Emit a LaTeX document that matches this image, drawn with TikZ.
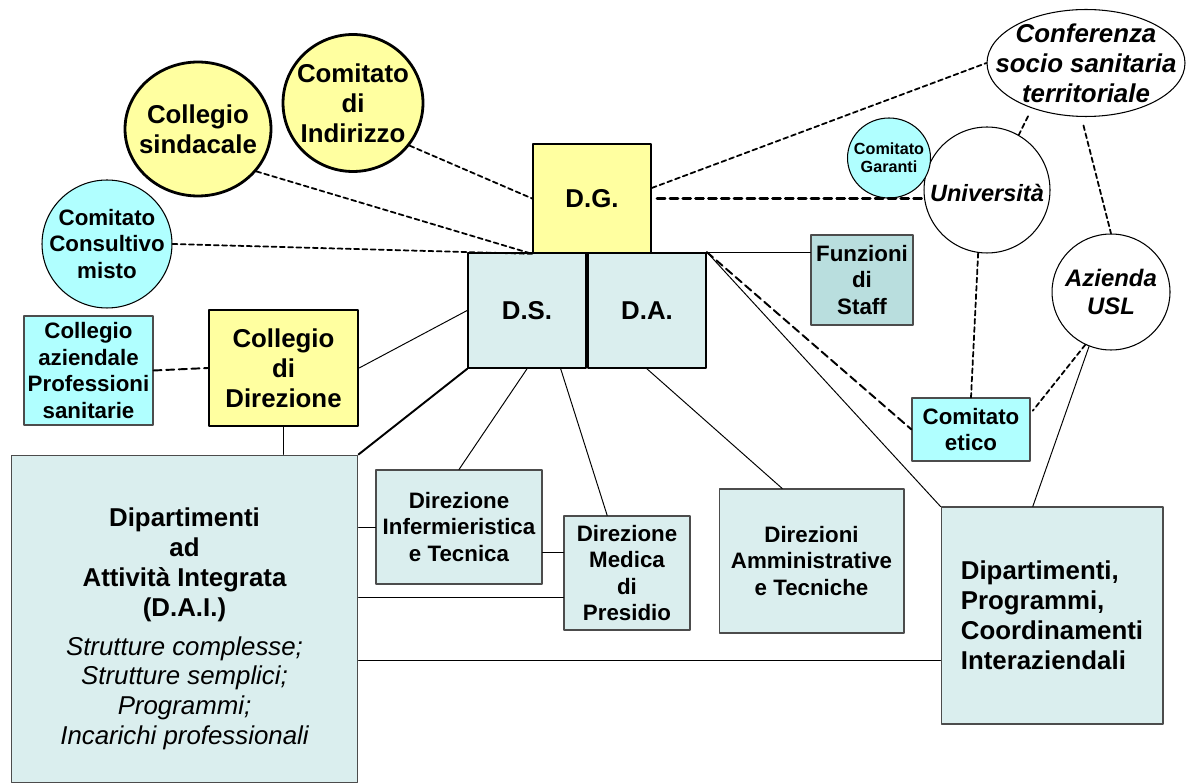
\documentclass[tikz,border=0pt]{standalone}
\usepackage{fontspec}
\setmainfont{Liberation Sans}
\usetikzlibrary{shapes.geometric}
\definecolor{giallo}{RGB}{255,255,160}
\definecolor{ciano}{RGB}{176,255,255}
\definecolor{grigioazz}{RGB}{218,238,238}
\definecolor{staffcol}{RGB}{185,222,222}
\newcommand{\grande}{\fontsize{14.7}{17}\selectfont\bfseries}
\newcommand{\medio}{\fontsize{12.7}{15}\selectfont\bfseries}
\newcommand{\piccolo}{\fontsize{9.2}{10.5}\selectfont\bfseries}
\newcommand{\corsivo}{\mdseries\itshape}

\begin{document}
\begin{tikzpicture}[line cap=round,line join=round,x=0.02cm,y=-0.02cm,
  cerchio/.style={ellipse,draw,line width=0.6pt,inner sep=0pt},
  scatola/.style={rectangle,draw=black!70,line width=0.6pt,fill=grigioazz,inner sep=0pt,align=center,font=\medio},
  tratt/.style={dash pattern=on 2.8pt off 1.9pt,line width=1pt},
  trattlungo/.style={dash pattern=on 4.6pt off 2.6pt,line width=1.1pt},
  filo/.style={line width=0.55pt}]
\useasboundingbox (0,0) rectangle (1186,783);

\node[cerchio,line width=1.6pt,fill=giallo,minimum width=2.92cm,minimum height=2.68cm,
  label={[align=center,font=\grande]center:Collegio\\sindacale}] (sind) at (198,129) {};
\node[cerchio,line width=1.6pt,fill=giallo,minimum width=2.8cm,minimum height=2.74cm,
  label={[align=center,font=\grande]center:Comitato\\di\\Indirizzo}] (indir) at (353,103) {};
\node[cerchio,fill=ciano,minimum width=2.6cm,minimum height=2.56cm,
  label={[align=center,font=\medio]center:Comitato\\Consultivo\\misto}] (consult) at (107,244) {};

\node[rectangle,draw,line width=1pt,fill=giallo,minimum width=2.36cm,minimum height=2.18cm,font=\grande] (dg) at (592,198.5) {D.G.};
\node[scatola,draw=black,line width=1pt,minimum width=2.36cm,minimum height=2.3cm,font=\grande] (ds) at (527,310.5) {D.S.};
\node[scatola,draw=black,line width=1pt,minimum width=2.36cm,minimum height=2.3cm,font=\grande] (da) at (647,310.5) {D.A.};
\node[scatola,fill=staffcol,minimum width=2.04cm,minimum height=1.8cm] (staff) at (862,280) {Funzioni\\di\\Staff};

\node[cerchio,fill=white,minimum width=3.96cm,minimum height=2.14cm,
  label={[align=center,font=\grande\itshape]center:Conferenza\\socio sanitaria\\territoriale}] (conf) at (1086,63) {};
\node[cerchio,fill=white,minimum width=2.52cm,minimum height=2.52cm,
  label={[font=\fontsize{13.4}{15}\selectfont\bfseries\itshape,yshift=-0.06cm]center:Università}] (univ) at (987,190) {};
\node[cerchio,fill=ciano,minimum width=1.66cm,minimum height=1.6cm,
  label={[align=center,font=\piccolo]center:Comitato\\Garanti}] (garanti) at (889,158) {};
\node[cerchio,fill=white,minimum width=2.36cm,minimum height=2.32cm,
  label={[align=center,font=\fontsize{13.6}{16}\selectfont\bfseries\itshape]center:Azienda\\USL}] (usl) at (1111,292) {};
\node[scatola,fill=ciano,minimum width=2.36cm,minimum height=1.26cm] (etico) at (971,429.5) {Comitato\\etico};

\node[scatola,fill=ciano,minimum width=2.58cm,minimum height=2.18cm] (colaz) at (88.5,370.5) {Collegio\\aziendale\\Professioni\\sanitarie};
\node[scatola,draw=black,line width=1.3pt,fill=giallo,minimum width=2.98cm,minimum height=2.32cm,font=\grande] (coldir) at (283.5,368) {Collegio\\di\\Direzione};

\node[scatola,minimum width=6.94cm,minimum height=6.56cm,
  label={[align=center,font=\grande,yshift=-0.2cm]center:Dipartimenti\\ad\\Attività Integrata\\(D.A.I.)\\[5pt]
  \corsivo Strutture complesse;\\\corsivo Strutture semplici;\\\corsivo Programmi;\\\corsivo Incarichi professionali}] (dai) at (184.5,619) {};
\node[scatola,minimum width=3.32cm,minimum height=2.28cm] (dinf) at (459,527) {Direzione\\Infermieristica\\e Tecnica};
\node[scatola,minimum width=2.52cm,minimum height=2.28cm] (dmed) at (627,573) {Direzione\\Medica\\di\\Presidio};
\node[scatola,minimum width=3.7cm,minimum height=2.88cm] (damm) at (811.5,561) {Direzioni\\Amministrative\\e Tecniche};
\node[scatola,minimum width=4.44cm,minimum height=4.34cm,font=\grande,align=left] (dint) at (1052,615.5) {Dipartimenti,\\Programmi,\\Coordinamenti\\Interaziendali};

\draw[tratt] (sind.-36) -- (dg.south west);
\draw[tratt] (indir.-37) -- (dg.west);
\draw[tratt] (consult.east) -- (dg.south west);
\draw[tratt] (dg.10) -- (conf.west);
\draw[dash pattern=on 4.5pt off 2.8pt,line width=1.6pt,shorten <=3pt] (dg.east) -- (dg.east -| univ.west);
\draw[filo] (da.north east) -- (da.north east -| staff.west);
\draw[trattlungo] (da.north east) -- (etico.west);
\draw[filo] (da.north east) -- (dint.north west);
\draw[tratt] (univ.-98) -- (etico.north);
\draw[tratt,shorten <=5pt] (conf.-140) -- (univ.60);
\draw[tratt,shorten <=5pt] (conf.-95) -- (usl.north);
\draw[tratt,shorten >=2pt] (usl.-116) -- (etico.15);
\draw[filo] (usl.-112) -- (dint.100);

\draw[trattlungo] (colaz.east) -- (coldir.west);
\draw[filo] (coldir.east) -- (ds.west);
\draw[filo] (coldir.south) -- (coldir.south |- dai.north);
\draw[line width=1.1pt] (dai.north east) -- (ds.south west);
\draw[filo] (ds.south) -- (dinf.north);
\draw[filo] (ds.-60) -- (dmed.109);
\draw[filo] (da.south) -- (damm.112);
\draw[filo] (dinf.west -| dai.east) -- (dinf.west);
\draw[filo] (dinf.-17) -- (dinf.-17 -| dmed.west);
\draw[filo] (dmed.-159 -| dai.east) -- (dmed.-159);
\draw[filo] (dint.-158 -| dai.east) -- (dint.-158);
\end{tikzpicture}
\end{document}
